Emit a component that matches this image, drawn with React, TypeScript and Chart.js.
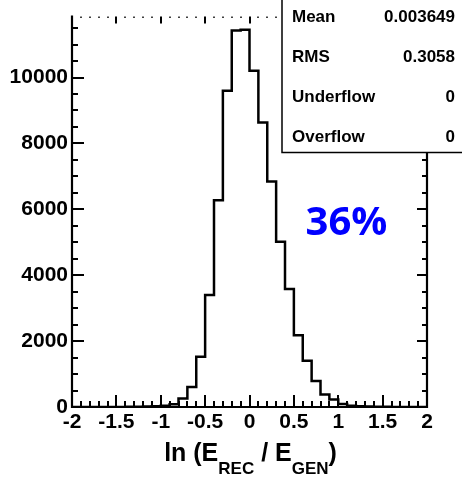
import React, { useEffect, useRef } from "react";
import { Chart, registerables } from "chart.js";

Chart.register(...registerables);

// ---- data ----
const binLowEdge = -2;
const binWidth = 0.1;
// counts per bin, bins from -2.0 to 2.0 in steps of 0.1
const counts = [
  0, 0, 0, 1, 2, 3, 5, 8, 12, 20,
  35, 80, 260, 608, 1525, 3400, 6272, 9600, 11430, 11450,
  10210, 8636, 6841, 5017, 3580, 2175, 1406, 787, 380, 230,
  90, 40, 22, 12, 7, 4, 2, 1, 0, 0,
];
const xMin = -2;
const xMax = 2;
const xTickValues = [-2, -1.5, -1, -0.5, 0, 0.5, 1, 1.5, 2];
const xMinorStep = 0.1;
const yMin = 0;
const yMax = 11850;
const yTickValues = [0, 2000, 4000, 6000, 8000, 10000];
const yMinorStep = 500;

const statsLabels = ["Mean", "RMS", "Underflow", "Overflow"];
const statsValues = ["0.003649", "0.3058", "0", "0"];
const annotationText = "36%";
const xTitleParts = [
  { text: "ln (E", sub: false },
  { text: "REC", sub: true },
  { text: " / E", sub: false },
  { text: "GEN", sub: true },
  { text: ")", sub: false },
];

const FONT = "'Liberation Sans', Arial, Helvetica, sans-serif";

const decorPlugin = {
  id: "rootDecor",
  afterDraw(chart: any) {
    const ctx = chart.ctx as CanvasRenderingContext2D;
    const xs = chart.scales.x;
    const ys = chart.scales.y;
    const ca = chart.chartArea;
    const boxLeft = 282;
    const boxBottom = 152.5;
    ctx.save();
    ctx.strokeStyle = "#000";
    ctx.fillStyle = "#000";
    ctx.lineCap = "butt";

    // frame lines
    ctx.lineWidth = 2.2;
    ctx.beginPath();
    ctx.moveTo(ca.left, ca.top - 1);
    ctx.lineTo(ca.left, ca.bottom);
    ctx.lineTo(ca.right, ca.bottom);
    ctx.lineTo(ca.right, boxBottom);
    ctx.stroke();

    // x ticks (bottom & top)
    const nX = Math.round((xMax - xMin) / xMinorStep);
    for (let i = 0; i <= nX; i++) {
      const v = xMin + i * xMinorStep;
      const px = Math.round(xs.getPixelForValue(v));
      const major = xTickValues.some((t) => Math.abs(t - v) < 1e-6);
      ctx.lineWidth = 2;
      ctx.beginPath();
      ctx.moveTo(px, ca.bottom);
      ctx.lineTo(px, ca.bottom - (major ? 12 : 6));
      ctx.stroke();
      // top: faint frame, only tick tips visible
      ctx.beginPath();
      ctx.moveTo(px, ca.top);
      ctx.lineTo(px, ca.top + (major ? 7 : 1.5));
      ctx.lineWidth = major ? 2 : 1.5;
      ctx.stroke();
    }

    // y ticks (left & right)
    const nY = Math.floor((yMax - yMin) / yMinorStep);
    ctx.lineWidth = 2;
    for (let i = 0; i <= nY; i++) {
      const v = yMin + i * yMinorStep;
      const py = Math.round(ys.getPixelForValue(v));
      const major = yTickValues.includes(v);
      ctx.beginPath();
      ctx.moveTo(ca.left, py);
      ctx.lineTo(ca.left + (major ? 12 : 6), py);
      ctx.stroke();
      if (py > boxBottom + 1) {
        ctx.beginPath();
        ctx.moveTo(ca.right, py);
        ctx.lineTo(ca.right - (major ? 10 : 5), py);
        ctx.stroke();
      }
    }

    // stats box
    ctx.fillStyle = "#fff";
    ctx.fillRect(boxLeft, -10, 500, boxBottom + 10);
    ctx.lineWidth = 1.5;
    ctx.strokeStyle = "#000";
    ctx.strokeRect(boxLeft, -10, 500, boxBottom + 10);
    ctx.fillStyle = "#000";
    ctx.font = `bold 17px ${FONT}`;
    ctx.textBaseline = "alphabetic";
    for (let i = 0; i < statsLabels.length; i++) {
      const by = 21.5 + 40 * i;
      ctx.textAlign = "left";
      ctx.fillText(statsLabels[i], 292, by);
      ctx.textAlign = "right";
      ctx.fillText(statsValues[i], 455, by);
    }

    // 36% annotation
    ctx.fillStyle = "#0000ff";
    ctx.font = `bold 40px 'Open Sans', ${FONT}`;
    ctx.textAlign = "center";
    ctx.fillText(annotationText, 346.5, 235);

    // x-axis title with subscripts
    ctx.fillStyle = "#000";
    ctx.textAlign = "left";
    const mainFont = `bold 25px ${FONT}`;
    const subFont = `bold 17px ${FONT}`;
    let total = 0;
    const widths = xTitleParts.map((p) => {
      ctx.font = p.sub ? subFont : mainFont;
      const w = ctx.measureText(p.text).width;
      total += w;
      return w;
    });
    let cx = (ca.left + ca.right) / 2 + 1 - total / 2;
    const baseY = 461;
    xTitleParts.forEach((p, i) => {
      ctx.font = p.sub ? subFont : mainFont;
      ctx.fillText(p.text, cx, p.sub ? baseY + 13 : baseY);
      cx += widths[i];
    });

    ctx.restore();
  },
};

export default function App() {
  const ref = useRef<HTMLCanvasElement | null>(null);
  useEffect(() => {
    document.body.style.margin = "0";
    const canvas = ref.current;
    if (!canvas) return;
    const points = counts.map((c, i) => ({ x: binLowEdge + i * binWidth, y: c }));
    points.push({ x: binLowEdge + counts.length * binWidth, y: counts[counts.length - 1] });
    const tickFont = { family: FONT, weight: "bold" as const, size: 21 };
    const chart = new Chart(canvas, {
      type: "line",
      data: {
        datasets: [
          {
            data: points,
            stepped: "before",
            borderColor: "#000",
            borderWidth: 2.5,
            borderJoinStyle: "miter",
            pointRadius: 0,
            fill: false,
            tension: 0,
          },
        ],
      },
      options: {
        animation: false,
        responsive: false,
        devicePixelRatio: 1,
        layout: { padding: { top: 11, right: 35, left: 0, bottom: 0 } },
        plugins: { legend: { display: false }, tooltip: { enabled: false }, title: { display: false } },
        scales: {
          x: {
            type: "linear",
            min: xMin,
            max: xMax,
            afterBuildTicks: (s: any) => {
              s.ticks = xTickValues.map((v) => ({ value: v }));
            },
            ticks: {
              font: tickFont,
              color: "#000",
              padding: 3,
              maxRotation: 0,
              autoSkip: false,
              callback: (v: any) => String(v),
            },
            grid: { display: false, drawTicks: false },
            border: { display: false },
            afterFit: (s: any) => {
              s.height = 70;
            },
          },
          y: {
            type: "linear",
            min: yMin,
            max: yMax,
            afterBuildTicks: (s: any) => {
              s.ticks = yTickValues.map((v) => ({ value: v }));
            },
            ticks: {
              font: tickFont,
              color: "#000",
              padding: 4,
              autoSkip: false,
              callback: (v: any) => String(v),
            },
            grid: { display: false, drawTicks: false },
            border: { display: false },
            afterFit: (s: any) => {
              s.width = 72;
            },
          },
        },
      },
      plugins: [decorPlugin],
    } as any);
    return () => chart.destroy();
  }, []);
  return (
    <div style={{ position: "absolute", left: 0, top: 0, width: 462, height: 477, background: "#fff" }}>
      <canvas ref={ref} width={462} height={477} style={{ width: 462, height: 477, display: "block" }} />
    </div>
  );
}
